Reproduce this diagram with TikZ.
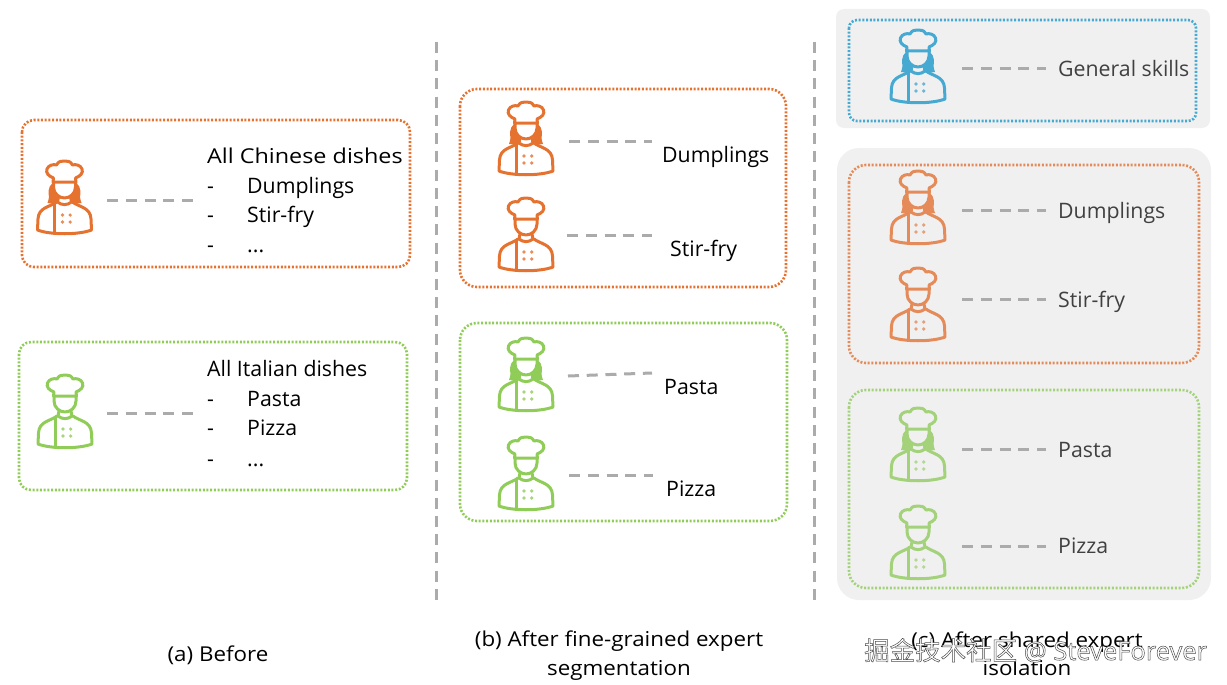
\documentclass[tikz,border=0pt]{standalone}
\usepackage{fontspec}
\setmainfont{Open Sans}
\newfontfamily\cjk{Noto Sans CJK SC}
\newfontfamily\capfont[FakeStretch=1.09]{Open Sans}
\newfontfamily\headfont[FakeStretch=1.14]{Open Sans}
\definecolor{oa}{HTML}{E5722F}
\definecolor{ga}{HTML}{90CC58}
\definecolor{bc}{HTML}{45A9D2}
\definecolor{ol}{HTML}{E48B59}
\definecolor{gl}{HTML}{A3D27B}
\definecolor{sh}{HTML}{F0F0F0}
\definecolor{dl}{HTML}{ABABAB}
\definecolor{tx}{HTML}{404040}
\tikzset{
 x=1pt,y=-1pt,
 dotbox/.style={line width=2.6pt,dash pattern=on 2pt off 1.7pt},
 conn/.style={draw=dl,line width=3pt,dash pattern=on 11pt off 7.75pt},
 sepline/.style={draw=dl,line width=3pt,dash pattern=on 11pt off 7.23pt},
 lab/.style={anchor=base west,inner sep=0pt,font=\fontsize{21.3}{24}\selectfont,text=black},
 labc/.style={lab,text=tx},
 captxt/.style={anchor=base,inner sep=0pt,font=\capfont\fontsize{20.5}{24}\selectfont,text=black},
 pics/chefbase/.style={code={
  \begin{scope}[line width=3pt,line join=round,line cap=round]
  \draw (-11.5,22) -- (-11,18) .. controls (-16,16) and (-19,13) .. (-17.5,9) .. controls (-16,5) and (-11,4) .. (-8,5) .. controls (-6,1) and (-3,1) .. (0,1) .. controls (3,1) and (6,1) .. (8,5) .. controls (11,4) and (16,5) .. (17.5,9) .. controls (19,13) and (16,16) .. (11,18) -- (11.5,22) -- cycle;
  \draw (-11,22) -- (-11,27) .. controls (-11,34) and (-5,38) .. (0,38) .. controls (5,38) and (11,34) .. (11,27) -- (11,22);
  \draw (-6,37) -- (-7,42) .. controls (-3,45.5) and (3,45.5) .. (7,42) -- (6,37);
  \draw (-8,42) .. controls (-14,47) and (-26,47) .. (-26.5,59) -- (-27,70) .. controls (-14,75) and (14,75) .. (27,70) -- (26.5,59) .. controls (26,47) and (14,47) .. (8,42);
  \draw (-10,43) -- (-10,73);
  \end{scope}
  \foreach \bx in {-2,5.7}\foreach \by in {55,62}{\fill[opacity=.8] (\bx,\by) circle (1.8pt);}
 }},
 pics/chefw/.style={code={
  \pic {chefbase};
  \fill (-12,23) .. controls (-17,27) and (-16,34) .. (-15.5,37) .. controls (-15.5,39) and (-16.5,41) .. (-17,43) -- (-8,44) -- (-6,38) .. controls (-9,36) and (-11,32) .. (-11,27) -- cycle;
  \fill (12,23) .. controls (17,27) and (16,34) .. (15.5,37) .. controls (15.5,39) and (16.5,41) .. (17,43) -- (8,44) -- (6,38) .. controls (9,36) and (11,32) .. (11,27) -- cycle;
 }},
}
\begin{document}
\begin{tikzpicture}
\useasboundingbox (0,0) rectangle (1227,685);
% shaded panels
\fill[sh,rounded corners=8pt] (836,9) rectangle (1210,128);
\fill[sh,rounded corners=22pt] (837,148) rectangle (1211,600);
% separators
\coordinate (s1t) at (436,42); \coordinate (s1b) at (436,600);
\coordinate (s2t) at (814,42); \coordinate (s2b) at (814,600);
\draw[sepline] (s1t) -- (s1b);
\draw[sepline] (s2t) -- (s2b);
% boxes
\draw[dotbox,oa,rounded corners=12pt] (22,120) rectangle (410,267);
\draw[dotbox,ga,rounded corners=12pt] (19,342) rectangle (407,490);
\draw[dotbox,oa,rounded corners=17pt] (460,89) rectangle (786,287);
\draw[dotbox,ga,rounded corners=17pt] (460,323) rectangle (787,521);
\draw[dotbox,bc,rounded corners=8pt] (849,20) rectangle (1196,121);
\draw[dotbox,ol,rounded corners=17pt] (849,165) rectangle (1199,363);
\draw[dotbox,gl,rounded corners=17pt] (849,390) rectangle (1199,588);
% chefs
\pic[color=oa] at (64.5,160) {chefw};
\pic[color=ga] at (65,374) {chefbase};
\pic[color=oa] at (526,101) {chefw};
\pic[color=oa] at (526,197) {chefbase};
\pic[color=ga] at (526,337) {chefw};
\pic[color=ga] at (526,436) {chefbase};
\pic[color=bc] at (918,29) {chefw};
\pic[color=ol] at (918,170) {chefw};
\pic[color=ol] at (918,267) {chefbase};
\pic[color=gl] at (918,407) {chefw};
\pic[color=gl] at (918,505) {chefbase};
% connector ends
\coordinate (a1s) at (107,200); \coordinate (a1e) at (193,200);
\coordinate (a2s) at (107,413); \coordinate (a2e) at (193,413);
\coordinate (b1s) at (569,141.5); \coordinate (b1e) at (652,141.5);
\coordinate (b2s) at (567,235); \coordinate (b2e) at (652,235);
\coordinate (b3s) at (568,376); \coordinate (b3e) at (652,373);
\coordinate (b4s) at (569,475); \coordinate (b4e) at (653,475);
\coordinate (c1s) at (962,69); \coordinate (c1e) at (1046,69);
\coordinate (c2s) at (962,210); \coordinate (c2e) at (1046,210);
\coordinate (c3s) at (962,299); \coordinate (c3e) at (1046,299);
\coordinate (c4s) at (962,449); \coordinate (c4e) at (1046,449);
\coordinate (c5s) at (962,546); \coordinate (c5e) at (1046,546);
\foreach \c in {a1,a2,b1,b2,b3,b4,c1,c2,c3,c4,c5}{\draw[conn] (\c s) -- (\c e);}
% text (a)
\node[lab,font=\headfont\fontsize{20.5}{24}\selectfont] (ta0) at (207,163) {All Chinese dishes};
\node[lab] (ta1d) at (207,193) {-}; \node[lab] (ta1) at (247,193) {Dumplings};
\node[lab] (ta2d) at (207,222) {-}; \node[lab] (ta2) at (247,222) {Stir-fry};
\node[lab] (ta3d) at (207,252) {-}; \node[lab] (ta3) at (247,252) {...};
\node[lab] (tg0) at (207,376) {All Italian dishes};
\node[lab] (tg1d) at (207,406) {-}; \node[lab] (tg1) at (247,406) {Pasta};
\node[lab] (tg2d) at (207,435) {-}; \node[lab] (tg2) at (247,435) {Pizza};
\node[lab] (tg3d) at (207,466) {-}; \node[lab] (tg3) at (247,466) {...};
% text (b)
\node[lab] (tb1) at (662,162) {Dumplings};
\node[lab] (tb2) at (670,256) {Stir-fry};
\node[lab] (tb3) at (664,394) {Pasta};
\node[lab] (tb4) at (666,496) {Pizza};
% text (c)
\node[labc] (tc1) at (1058,77) {General skills};
\node[labc] (tc2) at (1058,218) {Dumplings};
\node[labc] (tc3) at (1058,307) {Stir-fry};
\node[labc] (tc4) at (1058,457) {Pasta};
\node[labc] (tc5) at (1058,553) {Pizza};
% captions
\node[captxt] (capa) at (218,661) {(a) Before};
\node[captxt] (capb1) at (619,646) {(b) After fine-grained expert};
\node[captxt] (capb2) at (619,675) {segmentation};
\node[captxt] (capc1) at (1027,647) {(c) After shared expert};
\node[captxt] (capc2) at (1027,675) {isolation};
% watermark
\node[anchor=base west,inner sep=0pt,text=white,font=\fontsize{25.5}{28}\selectfont] (wm) at (864,660)
 {\special{pdf:code 0.3 G 0.5 w 2 Tr}{\cjk 掘金技术社区} @ SteveForever\special{pdf:code 0 Tr}};
\end{tikzpicture}
\end{document}
